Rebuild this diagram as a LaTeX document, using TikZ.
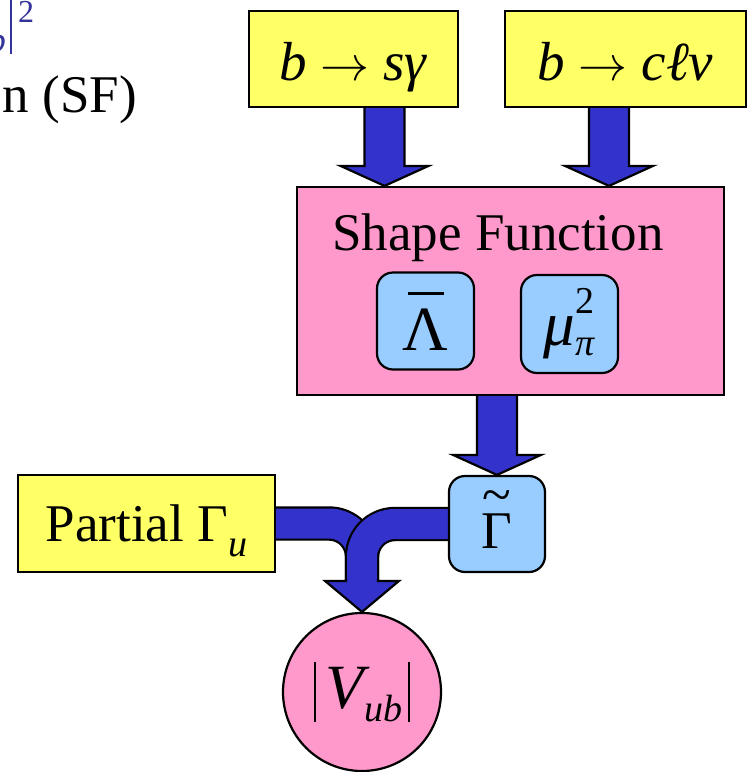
\documentclass[tikz,border=0pt]{standalone}
\usepackage{fontspec}
\setmainfont{Liberation Serif}
\usetikzlibrary{calc,positioning}
\definecolor{canary}{HTML}{FFFF66}
\definecolor{blush}{HTML}{FF99CC}
\definecolor{sky}{HTML}{99CCFF}
\definecolor{royal}{HTML}{3333CC}
\definecolor{indigo}{HTML}{333399}
\newcommand{\labelsize}{\fontsize{53}{58}\selectfont}
\newcommand{\mathsize}{\fontsize{55}{60}\selectfont}
\newcommand{\symsize}{\fontsize{63}{68}\selectfont}
\newcommand{\subsize}{\fontsize{38}{42}\selectfont}
\newcommand{\goesto}{\scalebox{4.9}{\fontsize{10}{12}\selectfont$\rightarrow$}}
% block arrow: shaft below #1, tip on #2
\newcommand{\blockdown}[2]{%
  \path[flowarrow] let \p1=#1, \p2=#2 in
    (\x1-20,\y1) -- (\x1-20,\y2+20) -- (\x1-44,\y2+20) -- (\x1,\y2)
    -- (\x1+44,\y2+20) -- (\x1+20,\y2+20) -- (\x1+20,\y1);}
\pgfdeclarelayer{background}
\pgfsetlayers{background,main}

\begin{document}
\begin{tikzpicture}[x=1pt, y=-1pt,
    inbox/.style={draw, line width=2.2pt, fill=canary, inner sep=0pt,
        font=\mathsize, text height=42pt, text depth=0pt},
    sfbox/.style={draw, line width=2.2pt, fill=blush,
        minimum width=427pt, minimum height=208pt},
    parbox/.style={draw, line width=2.2pt, fill=sky, rounded corners=16pt,
        minimum width=97pt, minimum height=97pt, inner sep=0pt},
    resultnode/.style={circle, draw, line width=2.2pt, fill=blush,
        minimum size=158pt, inner sep=0pt},
    flowarrow/.style={fill=royal, draw=black, line width=2.2pt, line join=miter},
    pipe/.style={draw=black, line width=2.2pt, double=royal,
        double distance=30pt, rounded corners=33pt}]
    \useasboundingbox (0,0) rectangle (748,772);
    \clip (0,0) rectangle (748,772);

    % Slide text cut at the left
    \node[font=\fontsize{53}{58}\selectfont, anchor=base east, inner sep=0pt] (sfnote) at (137,112) {n (SF)};
    \node[font=\fontsize{32}{36}\selectfont, text=indigo, anchor=base west, inner sep=0pt] (sqtwo) at (18,22) {2};
    \node[font=\fontsize{36}{40}\selectfont\itshape, text=indigo, anchor=base east, inner sep=0pt] (subb) at (6,52) {b};
    \draw[indigo, line width=2.5pt] (11,0) -- (11,54);

    % Inputs
    \node[inbox, minimum width=209pt, minimum height=96pt] (bsg) at (353.5,59) {\textit{b} \goesto{} \textit{sγ}};
    \node[inbox, minimum width=241pt, minimum height=96pt] (bclv) at (625.5,59) {\textit{b} \goesto{} \textit{cℓν}};

    % Shape function with its parameters
    \node[sfbox] (sf) at (510.5,291) {};
    \node[font=\labelsize, anchor=base] (sftitle) at (498,250) {Shape Function};
    \node[parbox] (lam) at (425.5,321) {\symsize\rlap{\hspace{5pt}\rule[55pt]{36pt}{3pt}}Λ};
    \node[parbox, minimum height=98pt] (mu) at (569.5,324) {\symsize\textit{μ}\rlap{\raisebox{32pt}{\subsize 2}}\raisebox{-10pt}{\subsize\textit{π}}};

    % Rates
    \node[parbox, minimum width=96pt, minimum height=96pt, text height=48pt, text depth=0pt] (gam) at (497,524) {\labelsize\rlap{\raisebox{36pt}[0pt][0pt]{\hspace{1pt}\textasciitilde}}Γ};
    \node[inbox, font=\labelsize, minimum width=257pt, minimum height=97pt, text height=35pt] (part) at (146.5,523.5) {Partial Γ\raisebox{-15pt}[0pt][0pt]{\subsize\textit{u}}};

    % Result
    \node[resultnode] (vub) at (362,692) {\symsize\rule[-13pt]{2pt}{60pt}\hspace{10pt}\textit{V}\hspace{-6pt}\raisebox{-13pt}{\subsize\textit{ub}}\hspace{6pt}\rule[-13pt]{2pt}{60pt}};

    % Flow arrows
    \begin{pgfonlayer}{background}
        \blockdown{([xshift=31pt]bsg.south)}{(sf.north)}
        \blockdown{([xshift=-16.5pt]bclv.south)}{(sf.north)}
        \blockdown{(gam.north |- sf.south)}{(gam.north)}

        % Merging pipes
        \draw[pipe] (part.east) -| ([yshift=31pt]vub.north);
        \draw[pipe] (gam.west) -| ([yshift=31pt]vub.north);
        \path[flowarrow] let \p1=(vub.north) in
            (\x1-16,\y1+33) -- (\x1-16,\y1+31) -- (\x1-37,\y1+31) -- (\x1,\y1)
            -- (\x1+37,\y1+31) -- (\x1+16,\y1+31) -- (\x1+16,\y1+33);
    \end{pgfonlayer}

\end{tikzpicture}
\end{document}
